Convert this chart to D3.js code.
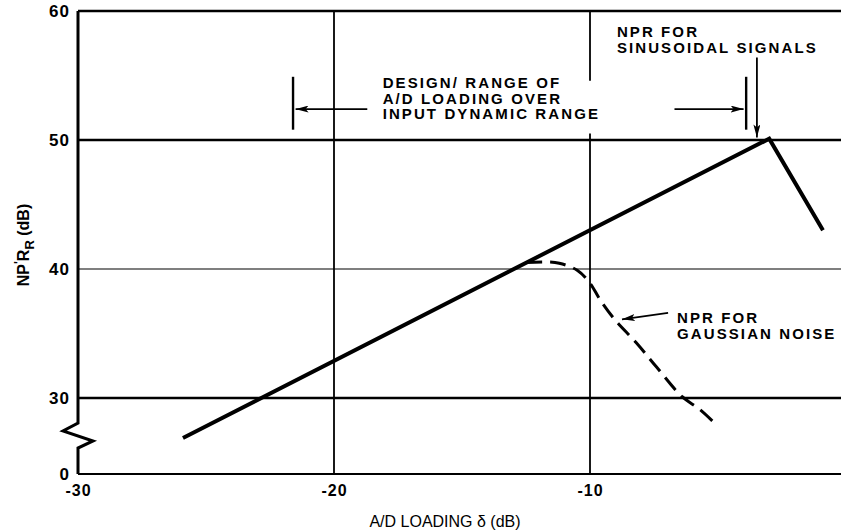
<!DOCTYPE html>
<html>
<head>
<meta charset="utf-8">
<script src="https://cdn.jsdelivr.net/npm/d3@7"></script>
<style>
  body { margin: 0; background: #fff; }
  text { font-family: "Liberation Sans", Arial, sans-serif; fill: #000; }
  .lbl { font-weight: bold; font-size: 15px; letter-spacing: 2.1px; }
  .tick text { font-weight: bold; font-family: "Liberation Sans", Arial, sans-serif; letter-spacing: 1px; }
</style>
</head>
<body>
<svg id="chart"></svg>
<script>
var width = 841, height = 531;

// A/D loading (dB) on x, NPR (dB) on y. The y axis is broken under 30, its floor is labelled 0
var xTicks = [-30, -20, -10],
    yTicks = [24.1, 30, 40, 50, 60],
    yTickLabels = ["0", "30", "40", "50", "60"],
    sineX = [-25.9, -3.0, -0.9],
    sineY = [26.9, 50.1, 43.0],
    noiseX = [-12.5, -11.7, -11.2, -10.5, -10.0, -9.6, -9.0, -8.2, -7.4, -6.4, -5.7, -5.0],
    noiseY = [40.5, 40.55, 40.45, 39.9, 38.9, 37.6, 36.0, 34.3, 32.4, 30.1, 29.1, 27.8];

var x = d3.scaleLinear().domain([-30, 0]).range([78, 846]),
    y = d3.scaleLinear().domain([30, 60]).range([398, 11]);

var svg = d3.select("#chart")
    .attr("width", width)
    .attr("height", height);

var defs = svg.append("defs");
defs.append("marker")
    .attr("id", "head")
    .attr("viewBox", "0 0 13 7")
    .attr("refX", 13).attr("refY", 3.5)
    .attr("markerWidth", 13).attr("markerHeight", 7)
    .attr("markerUnits", "userSpaceOnUse")
    .attr("orient", "auto")
    .append("path")
    .attr("d", "M0,0 L13,3.5 L0,7 L3,3.5 Z")
    .attr("fill", "#000");

var floor = yTicks[0];

// grid
svg.append("line")
    .attr("x1", x(-30)).attr("x2", width)
    .attr("y1", y(60)).attr("y2", y(60))
    .attr("stroke", "#000").attr("stroke-width", 2.5);

[[30, 2.5], [40, 1.2], [50, 2.5]].forEach(function (g) {
    svg.append("line")
        .attr("x1", x(-30)).attr("x2", width)
        .attr("y1", y(g[0])).attr("y2", y(g[0]))
        .attr("stroke", "#000").attr("stroke-width", g[1]);
});

svg.append("line")
    .attr("x1", x(-20)).attr("x2", x(-20))
    .attr("y1", y(60)).attr("y2", y(floor))
    .attr("stroke", "#000").attr("stroke-width", 1.8);

[[60, 54.6], [50.5, floor]].forEach(function (s) {
    svg.append("line")
        .attr("x1", x(-10)).attr("x2", x(-10))
        .attr("y1", y(s[0])).attr("y2", y(s[1]))
        .attr("stroke", "#000").attr("stroke-width", 1.8);
});

// broken left axis and bottom axis
var ax = x(-30);
svg.append("path")
    .attr("d", "M" + ax + "," + y(60) +
        "L" + ax + "," + y(28.06) +
        "L" + (ax - 15) + "," + y(27.44) +
        "L" + (ax + 15) + "," + y(26.67) +
        "L" + ax + "," + y(26.12) +
        "L" + ax + "," + y(floor))
    .attr("fill", "none").attr("stroke", "#000").attr("stroke-width", 3);

svg.append("line")
    .attr("x1", ax).attr("x2", width)
    .attr("y1", y(floor)).attr("y2", y(floor))
    .attr("stroke", "#000").attr("stroke-width", 2);

svg.append("g")
    .attr("transform", "translate(" + (ax - 5) + ",0)")
    .call(d3.axisLeft(y).tickValues(yTicks).tickSize(0).tickPadding(3)
        .tickFormat(function (d, i) { return yTickLabels[i]; }))
    .call(function (g) { g.select(".domain").remove(); })
    .selectAll("text").style("font-size", "17px");

svg.append("g")
    .attr("transform", "translate(0," + (y(floor) + 9) + ")")
    .call(d3.axisBottom(x).tickValues(xTicks).tickSize(0).tickPadding(2)
        .tickFormat(function (d) { return "-" + Math.abs(d); }))
    .call(function (g) { g.select(".domain").remove(); })
    .selectAll("text").style("font-size", "16px");

svg.append("text")
    .attr("x", 445).attr("y", 527)
    .attr("text-anchor", "middle")
    .style("font-size", "16px")
    .text("A/D LOADING δ (dB)");

var yl = svg.append("text")
    .attr("transform", "translate(29,245) rotate(-90)")
    .attr("text-anchor", "middle")
    .style("font-size", "16px").style("font-weight", "bold");
yl.append("tspan").text("NP");
yl.append("tspan").attr("dy", -6).style("font-size", "12px").text("'");
yl.append("tspan").attr("dy", 6).text("R");
yl.append("tspan").attr("dy", 5).style("font-size", "13px").text("R");
yl.append("tspan").attr("dy", -5).text(" (dB)");

// curves
var sine = sineX.map(function (d, i) { return [d, sineY[i]]; }),
    noise = noiseX.map(function (d, i) { return [d, noiseY[i]]; });

var line = d3.line()
    .x(function (d) { return x(d[0]); })
    .y(function (d) { return y(d[1]); });

svg.append("path")
    .datum(sine)
    .attr("d", line)
    .attr("fill", "none").attr("stroke", "#000")
    .attr("stroke-width", 4).attr("stroke-linejoin", "miter");

svg.append("path")
    .datum(noise)
    .attr("d", line.curve(d3.curveCatmullRom))
    .attr("fill", "none").attr("stroke", "#000")
    .attr("stroke-width", 3).attr("stroke-dasharray", "16,8");

// annotations
[-21.6, -3.9].forEach(function (v) {
    svg.append("line")
        .attr("x1", x(v)).attr("x2", x(v))
        .attr("y1", y(54.9)).attr("y2", y(50.8))
        .attr("stroke", "#000").attr("stroke-width", 2.4);
});

function arrow(x1, y1, x2, y2) {
    svg.append("line")
        .attr("x1", x(x1)).attr("y1", y(y1))
        .attr("x2", x(x2)).attr("y2", y(y2))
        .attr("stroke", "#000").attr("stroke-width", 1.8)
        .attr("marker-end", "url(#head)");
}
arrow(-18.7, 52.4, -21.5, 52.4);
arrow(-6.7, 52.4, -4.0, 52.4);
arrow(-3.48, 56.4, -3.48, 50.2);
arrow(-6.95, 36.6, -8.75, 36.1);

function label(xv, yv, lines) {
    var t = svg.append("text").attr("class", "lbl")
        .attr("x", x(xv)).attr("y", y(yv));
    lines.forEach(function (s, i) {
        t.append("tspan").attr("x", x(xv)).attr("dy", i ? 15.5 : 0).text(s);
    });
}
label(-18.1, 54.03, ["DESIGN/ RANGE OF", "A/D LOADING OVER", "INPUT DYNAMIC RANGE"]);
label(-8.95, 57.98, ["NPR FOR", "SINUSOIDAL SIGNALS"]);
label(-6.6, 35.81, ["NPR FOR", "GAUSSIAN NOISE"]);
</script>
</body>
</html>
